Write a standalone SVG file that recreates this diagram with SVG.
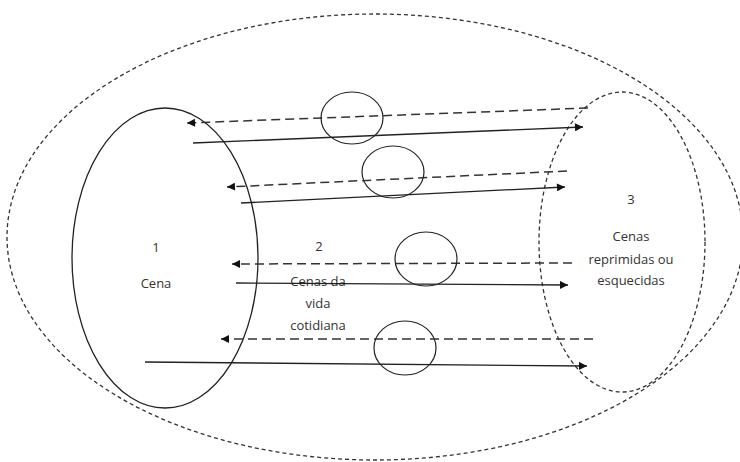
<svg xmlns="http://www.w3.org/2000/svg" width="740" height="462" viewBox="0 0 740 462">
<style>
.bg{fill:#fff}
.solid{fill:none;stroke:#222;stroke-width:1.3}
.dash{fill:none;stroke:#333;stroke-width:1.5;stroke-dasharray:9 5}
.dot{fill:none;stroke:#333;stroke-width:1.3;stroke-dasharray:4 3}
.ring{fill:none;stroke:#222;stroke-width:1.2}
text{font-family:"Open Sans","Liberation Sans",Arial,sans-serif;font-size:13px;fill:#333;text-anchor:middle}
</style>
<defs>
<marker id="ah" viewBox="0 0 10 10" refX="10" refY="5" markerWidth="10" markerHeight="8" markerUnits="userSpaceOnUse" orient="auto">
<path d="M0,0 L10,5 L0,10 Z" fill="#111"/>
</marker>
</defs>
<rect class="bg" width="740" height="462"/>
<g id="outer">
<ellipse class="dot" cx="375" cy="237" rx="368" ry="223"/>
</g>
<g id="node1">
<ellipse class="solid" cx="165" cy="258" rx="93" ry="150"/>
<text x="156" y="252">1</text>
<text x="156" y="288">Cena</text>
</g>
<g id="node3">
<ellipse class="dot" cx="622" cy="242" rx="83" ry="150"/>
<text x="631" y="204">3</text>
<text x="631" y="241">Cenas</text>
<text x="631" y="264">reprimidas ou</text>
<text x="631" y="285">esquecidas</text>
</g>
<g id="node2">
<text x="319" y="251">2</text>
<text x="318" y="286">Cenas da</text>
<text x="318" y="308">vida</text>
<text x="318" y="330">cotidiana</text>
</g>
<g id="connectors">
<line class="dash" x1="588" y1="108" x2="187" y2="123" marker-end="url(#ah)"/>
<line class="solid" x1="193" y1="143" x2="583" y2="127" marker-end="url(#ah)"/>
<line class="dash" x1="567" y1="171" x2="227" y2="187" marker-end="url(#ah)"/>
<line class="solid" x1="241" y1="203" x2="565" y2="187" marker-end="url(#ah)"/>
<line class="dash" x1="572" y1="263" x2="232" y2="264" marker-end="url(#ah)"/>
<line class="solid" x1="236" y1="283" x2="568" y2="285" marker-end="url(#ah)"/>
<line class="dash" x1="593" y1="339" x2="221" y2="339" marker-end="url(#ah)"/>
<line class="solid" x1="145" y1="362" x2="587" y2="366" marker-end="url(#ah)"/>
</g>
<g id="circles">
<ellipse class="ring" cx="352" cy="118" rx="31" ry="26"/>
<ellipse class="ring" cx="393" cy="172" rx="31" ry="26"/>
<ellipse class="ring" cx="426" cy="259" rx="31" ry="27"/>
<ellipse class="ring" cx="405" cy="348" rx="31" ry="27"/>
</g>
</svg>
